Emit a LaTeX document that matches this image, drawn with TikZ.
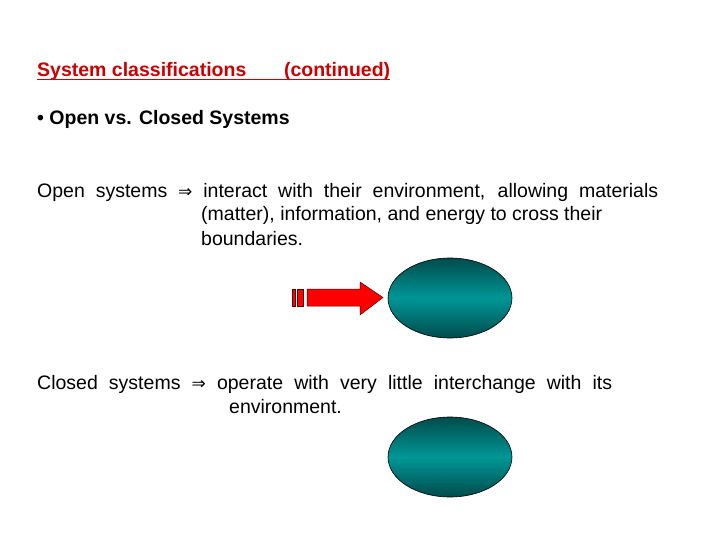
\documentclass[tikz,border=0pt]{standalone}
\usepackage{fontspec}
\setmainfont{Liberation Sans}
\newfontfamily\symf{DejaVu Sans}
\definecolor{tealmid}{RGB}{0,150,150}
\definecolor{tealdark}{RGB}{0,75,75}
\definecolor{titlered}{RGB}{204,0,0}
\usetikzlibrary{shapes.geometric}
\tikzset{txt/.style={anchor=base west,inner sep=0pt,font=\fontsize{19.5}{22}\selectfont},
ell/.style={ellipse,draw=black,line width=0.6pt,top color=tealdark,bottom color=tealdark,middle color=tealmid,minimum width=124pt,minimum height=80pt,inner sep=0pt}}
\newcommand{\imp}{{\symf\fontsize{17}{19}\selectfont ⇒}}
\begin{document}
\begin{tikzpicture}[x=1pt,y=-1pt]
\useasboundingbox (0,0) rectangle (720,540);
\node[txt,font=\fontsize{19.5}{22}\selectfont\bfseries,text=titlered] (title) at (37,77) {\hbox to 353pt{System classifications\hfil(continued)}};
\draw[titlered,line width=1pt] ([yshift=-2.5pt]title.base west) -- ([yshift=-2.5pt]title.base east);
\node[txt,font=\fontsize{19.5}{22}\selectfont\bfseries] (bul) at (37,125) {• Open vs. Closed Systems};
\node[txt] (o1) at (37,197) {\hbox to 621pt{Open systems \imp\ interact with their environment, allowing materials}};
\node[txt] (o2) at (201,221) {(matter), information, and energy to cross their};
\node[txt] (o3) at (201,245) {boundaries.};
\node[txt] (c1) at (37,389) {\hbox to 575pt{Closed systems \imp\ operate with very little interchange with its}};
\node[txt] (c2) at (229,413) {environment.};
\node[ell] (e1) at (450,298) {};
\node[ell] (e2) at (450,457) {};
\draw[fill=red,draw=black!70!red,line width=0.5pt] (292,289) rectangle (295,306);
\draw[fill=red,draw=black!70!red,line width=0.5pt] (297,289) rectangle (303,306);
\draw[fill=red,draw=black!70!red,line width=0.5pt] (307,289) -- (360,289) -- (360,282) -- (383,297.5) -- (360,315) -- (360,306) -- (307,306) -- cycle;
\end{tikzpicture}
\end{document}
